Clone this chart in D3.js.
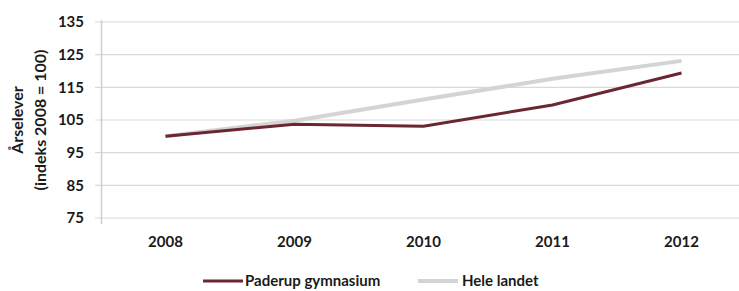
<!DOCTYPE html>
<html>
<head>
<meta charset="utf-8">
<script src="https://cdn.jsdelivr.net/npm/d3@7"></script>
<style>
	body { margin: 0; background: #fff; }
	text { font-family: Lato, "Open Sans", sans-serif; font-weight: 700; fill: #1a1a1a; }
</style>
</head>
<body>
<script>
var years = ["2008", "2009", "2010", "2011", "2012"];
var paderup = [100, 103.7, 103.1, 109.6, 119.4];
var heleLandet = [100, 104.8, 111.3, 117.6, 123.1];
var yTicks = [75, 85, 95, 105, 115, 125, 135];
var seriesNames = ["Paderup gymnasium", "Hele landet"];
var seriesColors = ["#6a2631", "#d4d4d4"];

function main(){

	var w = 739;
	var h = 291;

	var svg = d3.select("body")
				.append("svg")
				.attr("width", w)
				.attr("height", h);

	var xScale = d3.scaleBand()
					.domain(years)
					.range([101, 746]);

	var yScale = d3.scaleLinear()
					.domain([75, 135])
					.range([218, 22]);

	// gridlines
	svg.selectAll(".grid")
		.data(yTicks)
		.enter()
		.append("line")
		.attr("class", "grid")
		.attr("x1", 95)
		.attr("x2", w)
		.attr("y1", function(d){ return yScale(d); })
		.attr("y2", function(d){ return yScale(d); })
		.attr("stroke", "#d9d9d9")
		.attr("stroke-width", 1.2);

	var yAxis = d3.axisLeft(yScale)
					.tickValues(yTicks)
					.tickSize(0)
					.tickPadding(17);

	var gy = svg.append("g")
		.attr("transform", "translate(101,0)")
		.call(yAxis);
	gy.select(".domain").remove();
	gy.selectAll("text")
		.style("font-size", "15px")
		.style("font-family", "Lato, sans-serif")
		.style("font-weight", "700")
		.attr("fill", "#1a1a1a");

	svg.append("line")
		.attr("x1", 101.5).attr("x2", 101.5)
		.attr("y1", 20).attr("y2", 224)
		.attr("stroke", "#cfcfcf")
		.attr("stroke-width", 1.5);

	var xAxis = d3.axisBottom(xScale).tickSize(0).tickPadding(13);
	var gx = svg.append("g")
		.attr("transform", "translate(0,223)")
		.call(xAxis);
	gx.select(".domain").remove();
	gx.selectAll("text")
		.style("font-size", "15px")
		.style("font-family", "Lato, sans-serif")
		.style("font-weight", "700")
		.attr("fill", "#1a1a1a");

	// y title
	var title = svg.append("g")
		.attr("transform", "translate(0,120) rotate(-90)");
	title.append("text")
		.attr("x", 0).attr("y", 23)
		.attr("text-anchor", "middle")
		.style("font-size", "16px")
		.text("Årselever");
	title.append("text")
		.attr("x", 0).attr("y", 46)
		.attr("text-anchor", "middle")
		.style("font-size", "16px")
		.text("(indeks 2008 = 100)");

	var line = d3.line()
		.x(function(d, i){ return xScale(years[i]) + xScale.bandwidth() / 2; })
		.y(function(d){ return yScale(d); });

	svg.append("path")
		.datum(heleLandet)
		.attr("d", line)
		.attr("fill", "none")
		.attr("stroke", seriesColors[1])
		.attr("stroke-width", 4);

	svg.append("path")
		.datum(paderup)
		.attr("d", line)
		.attr("fill", "none")
		.attr("stroke", seriesColors[0])
		.attr("stroke-width", 3);

	// legend
	var legendX = [203, 418];
	var legend = svg.selectAll(".legend")
		.data(seriesNames)
		.enter()
		.append("g")
		.attr("class", "legend")
		.attr("transform", function(d, i){ return "translate(" + legendX[i] + ",281)"; });
	legend.append("line")
		.attr("x1", 0).attr("x2", 40)
		.attr("y1", 0).attr("y2", 0)
		.attr("stroke", function(d, i){ return seriesColors[i]; })
		.attr("stroke-width", function(d, i){ return i === 0 ? 3 : 4; });
	legend.append("text")
		.attr("x", function(d, i){ return i === 0 ? 42 : 44; })
		.attr("y", 5)
		.style("font-size", "15px")
		.text(function(d){ return d; });
}

main();
</script>
</body>
</html>
